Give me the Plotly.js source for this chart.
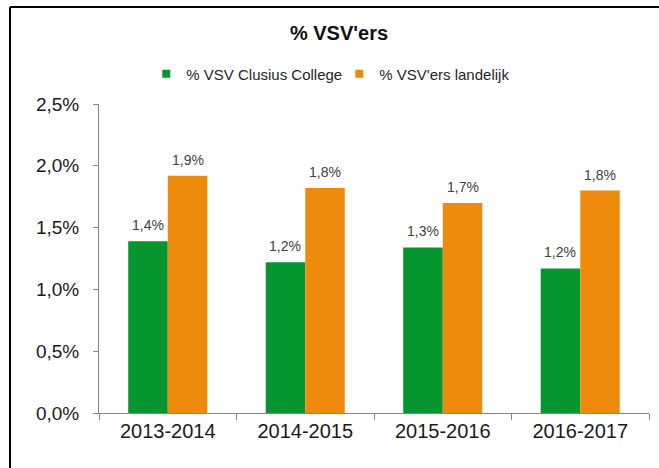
<!DOCTYPE html>
<html>
<head>
<meta charset="utf-8">
<script src="https://cdn.plot.ly/plotly-3.0.1.min.js"></script>
<style>html,body{margin:0;padding:0;background:#fff;overflow:hidden;}#chart{width:659px;height:468px;}</style>
</head>
<body>
<div id="chart"></div>
<script>
const categories = ['2013-2014', '2014-2015', '2015-2016', '2016-2017'];
const clusiusValues = [1.39, 1.22, 1.34, 1.17];
const landelijkValues = [1.92, 1.82, 1.70, 1.80];
const seriesNames = ['% VSV Clusius College', "% VSV'ers landelijk"];
const seriesColors = ['#05962F', '#EE8B0C'];
const yTicks = [0, 0.5, 1.0, 1.5, 2.0, 2.5];
const yTickText = yTicks.map(v => v.toFixed(1).replace('.', ',') + '%');

const labelFont = {family: 'Liberation Sans, Arial, sans-serif', size: 14, color: '#404040'};
const fmt = v => v.toFixed(1).replace('.', ',') + '%';

const traces = [
  {type: 'bar', x: categories, y: clusiusValues, name: seriesNames[0], showlegend: false,
   marker: {color: seriesColors[0]}, hoverinfo: 'none'},
  {type: 'bar', x: categories, y: landelijkValues, name: seriesNames[1], showlegend: false,
   marker: {color: seriesColors[1]}, hoverinfo: 'none'},
  // legend entries (small square keys)
  {type: 'scatter', mode: 'markers', x: [null], y: [null], name: seriesNames[0],
   marker: {symbol: 'square', size: 8, color: seriesColors[0]}, hoverinfo: 'none'},
  {type: 'scatter', mode: 'markers', x: [null], y: [null], name: seriesNames[1],
   marker: {symbol: 'square', size: 8, color: seriesColors[1]}, hoverinfo: 'none'}
];

// value labels above the bars
const annotations = [];
[clusiusValues, landelijkValues].forEach((vals, si) => {
  vals.forEach((v, i) => {
    annotations.push({x: categories[i], y: v, xref: 'x', yref: 'y', text: fmt(v),
      showarrow: false, xanchor: 'center', yanchor: 'bottom', xshift: si === 0 ? -20 : 20, yshift: 6,
      font: labelFont});
  });
});

const layout = {
  width: 659, height: 468,
  margin: {l: 99, r: 10, t: 104, b: 55},
  paper_bgcolor: '#fff', plot_bgcolor: '#fff',
  separators: ',.',
  font: {family: 'Liberation Sans, Arial, sans-serif', color: '#1a1a1a'},
  title: {text: "<b>% VSV'ers</b>", font: {size: 20, color: '#111'},
          x: 339/659, xanchor: 'center', xref: 'container', y: 1 - 33/468, yanchor: 'middle', yref: 'container'},
  barmode: 'group', bargap: 0.425, bargroupgap: 0,
  showlegend: true,
  legend: {orientation: 'h', x: 0.086, xanchor: 'left', y: 1 + (104 - 74) / 309, yanchor: 'middle',
           font: {size: 15, color: '#262626'}, itemwidth: 30, entrywidth: 148, entrywidthmode: 'pixels',
           traceorder: 'normal', bgcolor: 'rgba(0,0,0,0)'},
  annotations: annotations,
  xaxis: {type: 'category', showgrid: false, showline: true, linecolor: '#868686', linewidth: 1,
          ticks: 'outside', tickson: 'boundaries', ticklen: 6, tickcolor: '#868686',
          tickfont: {size: 20, color: '#1a1a1a'}, zeroline: false, fixedrange: true},
  yaxis: {range: [0, 2.5], tickmode: 'array', tickvals: yTicks, ticktext: yTickText,
          showgrid: false, showline: true, linecolor: '#868686', linewidth: 1,
          ticks: 'outside', ticklen: 5, tickcolor: '#868686', ticklabelstandoff: 10,
          tickfont: {size: 19, color: '#1a1a1a'}, zeroline: false, fixedrange: true},
  shapes: [
    {type: 'line', xref: 'paper', yref: 'paper',
     x0: (10 - 99) / 550, x1: (659 - 99) / 550, y0: (413 - 7) / 309, y1: (413 - 7) / 309,
     line: {color: '#000', width: 2}},
    {type: 'line', xref: 'paper', yref: 'paper',
     x0: (10 - 99) / 550, x1: (10 - 99) / 550, y0: (413 - 468) / 309, y1: (413 - 7) / 309,
     line: {color: '#000', width: 2}}
  ]
};

Plotly.newPlot('chart', traces, layout, {displayModeBar: false, staticPlot: true});
</script>
</body>
</html>
